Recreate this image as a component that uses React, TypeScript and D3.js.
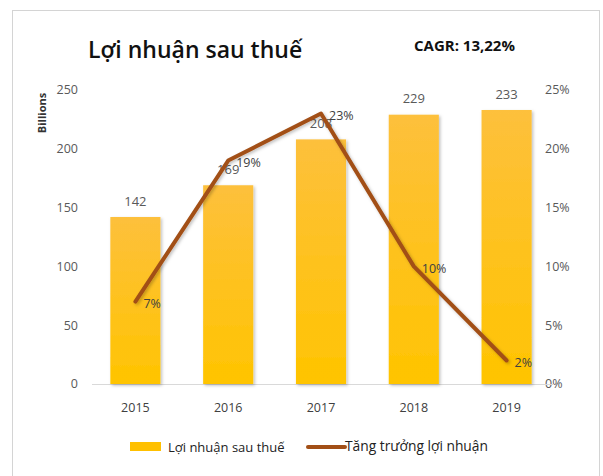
import React, { useRef, useEffect } from 'react';
import * as d3 from 'd3';

const years = ['2015', '2016', '2017', '2018', '2019'];
const profit = [142, 169, 208, 229, 233];
const growth = [0.07, 0.19, 0.23, 0.1, 0.02];
const growthLabels = ['7%', '19%', '23%', '10%', '2%'];
const leftTicks = [0, 50, 100, 150, 200, 250];
const rightTicks = [0, 0.05, 0.1, 0.15, 0.2, 0.25];

export default function App() {
  const svgRef = useRef<SVGSVGElement>(null);

  useEffect(() => {
    const svg = d3.select(svgRef.current);
    const font = "'Open Sans', 'Liberation Sans', sans-serif";
    svg.selectAll('*').remove();

    const defs = svg.append('defs');
    const grad = defs.append('linearGradient')
      .attr('id', 'barGrad').attr('x1', 0).attr('y1', 0).attr('x2', 0).attr('y2', 1);
    grad.append('stop').attr('offset', '0%').attr('stop-color', '#FDC03C');
    grad.append('stop').attr('offset', '100%').attr('stop-color', '#FFC400');
    const shadow = defs.append('filter').attr('id', 'shadow')
      .attr('x', '-20%').attr('y', '-20%').attr('width', '140%').attr('height', '140%');
    shadow.append('feDropShadow').attr('dx', 1.5).attr('dy', 1.5)
      .attr('stdDeviation', 1.5).attr('flood-color', '#000').attr('flood-opacity', 0.25);

    // frame
    svg.append('rect')
      .attr('x', 12.5).attr('y', 10.5).attr('width', 587).attr('height', 480)
      .attr('fill', '#fff').attr('stroke', '#d4d4d4');

    const x = d3.scaleBand().domain(years).range([89, 553]).paddingInner(0.46).paddingOuter(0.23);
    const y = d3.scaleLinear().domain([0, 250]).range([384, 90]);
    const y2 = d3.scaleLinear().domain([0, 0.25]).range([384, 90]);

    // title
    svg.append('text').attr('x', 88).attr('y', 58)
      .attr('font-family', font).attr('font-size', 23).attr('font-weight', 600)
      .attr('fill', '#111').text('Lợi nhuận sau thuế');
    svg.append('text').attr('x', 414).attr('y', 51)
      .attr('font-family', font).attr('font-size', 15).attr('font-weight', 700)
      .attr('fill', '#111').text('CAGR: 13,22%');

    // left axis
    svg.append('g').selectAll('text').data(leftTicks).join('text')
      .attr('x', 78).attr('y', d => y(d)).attr('dy', '0.35em')
      .attr('text-anchor', 'end').attr('font-family', font).attr('font-size', 12.5)
      .attr('fill', '#595959').text(d => d);
    svg.append('text')
      .attr('transform', 'translate(46,113) rotate(-90)')
      .attr('text-anchor', 'middle').attr('font-family', font).attr('font-size', 11)
      .attr('font-weight', 700).attr('fill', '#333').text('Billions');

    // right axis
    svg.append('g').selectAll('text').data(rightTicks).join('text')
      .attr('x', 545).attr('y', d => y2(d)).attr('dy', '0.35em')
      .attr('font-family', font).attr('font-size', 12.5)
      .attr('fill', '#595959').text(d => d3.format('.0%')(d));

    // x axis
    svg.append('line').attr('x1', 92).attr('x2', 553).attr('y1', 384.5).attr('y2', 384.5)
      .attr('stroke', '#d9d9d9');
    svg.append('g').selectAll('text').data(years).join('text')
      .attr('x', d => x(d)! + x.bandwidth() / 2).attr('y', 412)
      .attr('text-anchor', 'middle').attr('font-family', font).attr('font-size', 12.5)
      .attr('fill', '#404040').text(d => d);

    // bars
    svg.append('g').selectAll('rect').data(profit).join('rect')
      .attr('x', (d, i) => x(years[i])!).attr('width', x.bandwidth())
      .attr('y', d => y(d)).attr('height', d => y(0) - y(d))
      .attr('fill', 'url(#barGrad)').attr('filter', 'url(#shadow)');
    svg.append('g').selectAll('text').data(profit).join('text')
      .attr('x', (d, i) => x(years[i])! + x.bandwidth() / 2).attr('y', d => y(d) - 16)
      .attr('dy', '0.35em').attr('text-anchor', 'middle')
      .attr('font-family', font).attr('font-size', 13).attr('fill', '#595959').text(d => d);

    // growth line
    const cx = (i: number) => x(years[i])! + x.bandwidth() / 2;
    const line = d3.line<number>().x((d, i) => cx(i)).y(d => y2(d));
    svg.append('path').datum(growth)
      .attr('fill', 'none').attr('stroke', '#A24F16').attr('stroke-width', 4)
      .attr('stroke-linejoin', 'round').attr('stroke-linecap', 'round')
      .attr('filter', 'url(#shadow)').attr('d', line);
    svg.append('g').selectAll('text').data(growth).join('text')
      .attr('x', (d, i) => cx(i) + 8).attr('y', d => y2(d) + 2)
      .attr('dy', '0.35em').attr('font-family', font).attr('font-size', 12.5)
      .attr('fill', '#404040').text((d, i) => growthLabels[i]);

    // legend
    svg.append('rect').attr('x', 130).attr('y', 442).attr('width', 31).attr('height', 9)
      .attr('fill', '#FFC000');
    svg.append('text').attr('x', 168).attr('y', 447).attr('dy', '0.35em')
      .attr('font-family', font).attr('font-size', 13).attr('fill', '#222')
      .text('Lợi nhuận sau thuế');
    svg.append('line').attr('x1', 308).attr('x2', 345).attr('y1', 447).attr('y2', 447)
      .attr('stroke', '#A24F16').attr('stroke-width', 4).attr('stroke-linecap', 'round');
    svg.append('text').attr('x', 345).attr('y', 446).attr('dy', '0.35em')
      .attr('font-family', font).attr('font-size', 13.8).attr('fill', '#222')
      .text('Tăng trưởng lợi nhuận');
  }, []);

  return (
    <div style={{ position: 'absolute', left: 0, top: 0 }}>
      <svg ref={svgRef} width={603} height={476} style={{ display: 'block', background: '#fff' }} />
    </div>
  );
}
